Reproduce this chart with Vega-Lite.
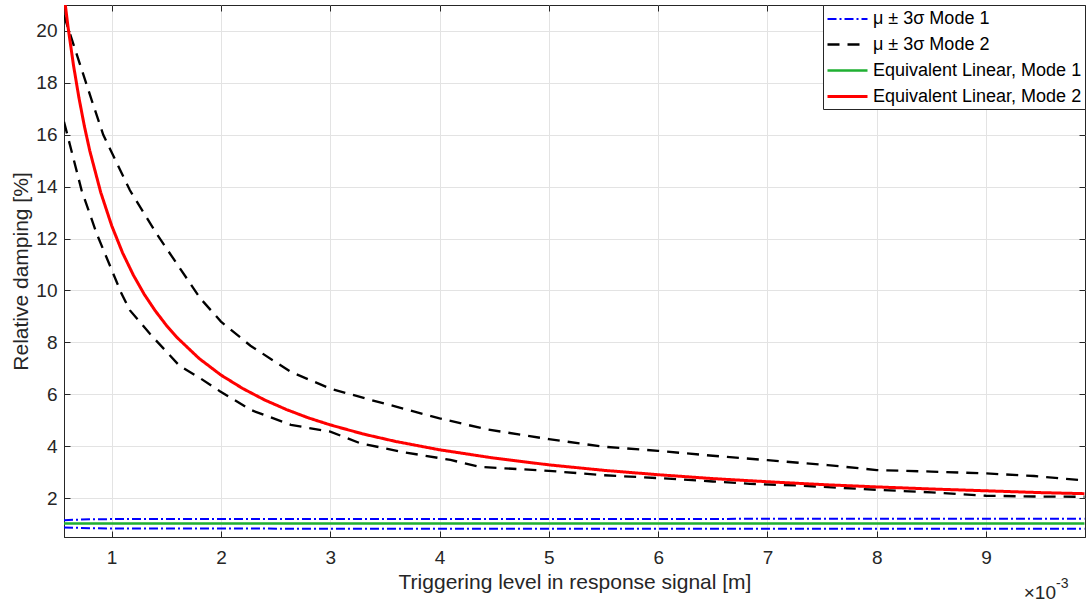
{
  "$schema": "https://vega.github.io/schema/vega-lite/v6.json",
  "width": 1021,
  "height": 532,
  "autosize": {"type": "none"},
  "padding": {"left": 64, "top": 5, "right": 4, "bottom": 65},
  "background": "white",
  "config": {
    "font": "Liberation Sans",
    "view": {"stroke": "#262626", "strokeWidth": 1},
    "axis": {
      "labelFont": "Liberation Sans",
      "titleFont": "Liberation Sans",
      "labelFontSize": 19,
      "titleFontSize": 21,
      "labelColor": "#262626",
      "titleColor": "#262626",
      "titleFontWeight": "normal",
      "domainColor": "#262626",
      "tickColor": "#262626",
      "gridColor": "#e3e3e3",
      "gridWidth": 1
    }
  },
  "resolve": {"axis": {"x": "independent", "y": "independent"}},
  "layer": [
    {
      "data": {"values": [
        {"x": 0.564, "v": 1.15, "series": "μ ± 3σ Mode 1", "bound": "upper"},
        {"x": 0.8, "v": 1.18, "series": "μ ± 3σ Mode 1", "bound": "upper"},
        {"x": 1.0, "v": 1.19, "series": "μ ± 3σ Mode 1", "bound": "upper"},
        {"x": 3.0, "v": 1.19, "series": "μ ± 3σ Mode 1", "bound": "upper"},
        {"x": 5.0, "v": 1.19, "series": "μ ± 3σ Mode 1", "bound": "upper"},
        {"x": 7.0, "v": 1.2, "series": "μ ± 3σ Mode 1", "bound": "upper"},
        {"x": 9.9, "v": 1.2, "series": "μ ± 3σ Mode 1", "bound": "upper"},
        {"x": 0.564, "v": 0.87, "series": "μ ± 3σ Mode 1", "bound": "lower"},
        {"x": 0.8, "v": 0.84, "series": "μ ± 3σ Mode 1", "bound": "lower"},
        {"x": 1.0, "v": 0.83, "series": "μ ± 3σ Mode 1", "bound": "lower"},
        {"x": 3.0, "v": 0.82, "series": "μ ± 3σ Mode 1", "bound": "lower"},
        {"x": 5.0, "v": 0.82, "series": "μ ± 3σ Mode 1", "bound": "lower"},
        {"x": 7.0, "v": 0.82, "series": "μ ± 3σ Mode 1", "bound": "lower"},
        {"x": 9.9, "v": 0.82, "series": "μ ± 3σ Mode 1", "bound": "lower"},

        {"x": 0.564, "v": 20.6, "series": "μ ± 3σ Mode 2", "bound": "upper"},
        {"x": 0.82, "v": 17.3, "series": "μ ± 3σ Mode 2", "bound": "upper"},
        {"x": 0.923, "v": 16.0, "series": "μ ± 3σ Mode 2", "bound": "upper"},
        {"x": 1.167, "v": 13.86, "series": "μ ± 3σ Mode 2", "bound": "upper"},
        {"x": 1.41, "v": 12.19, "series": "μ ± 3σ Mode 2", "bound": "upper"},
        {"x": 1.81, "v": 9.7, "series": "μ ± 3σ Mode 2", "bound": "upper"},
        {"x": 2.0, "v": 8.8, "series": "μ ± 3σ Mode 2", "bound": "upper"},
        {"x": 2.27, "v": 7.87, "series": "μ ± 3σ Mode 2", "bound": "upper"},
        {"x": 2.64, "v": 6.86, "series": "μ ± 3σ Mode 2", "bound": "upper"},
        {"x": 3.0, "v": 6.22, "series": "μ ± 3σ Mode 2", "bound": "upper"},
        {"x": 3.33, "v": 5.83, "series": "μ ± 3σ Mode 2", "bound": "upper"},
        {"x": 4.0, "v": 5.07, "series": "μ ± 3σ Mode 2", "bound": "upper"},
        {"x": 4.43, "v": 4.65, "series": "μ ± 3σ Mode 2", "bound": "upper"},
        {"x": 5.0, "v": 4.27, "series": "μ ± 3σ Mode 2", "bound": "upper"},
        {"x": 5.5, "v": 3.98, "series": "μ ± 3σ Mode 2", "bound": "upper"},
        {"x": 6.0, "v": 3.82, "series": "μ ± 3σ Mode 2", "bound": "upper"},
        {"x": 6.5, "v": 3.63, "series": "μ ± 3σ Mode 2", "bound": "upper"},
        {"x": 7.0, "v": 3.46, "series": "μ ± 3σ Mode 2", "bound": "upper"},
        {"x": 7.55, "v": 3.27, "series": "μ ± 3σ Mode 2", "bound": "upper"},
        {"x": 8.0, "v": 3.08, "series": "μ ± 3σ Mode 2", "bound": "upper"},
        {"x": 8.5, "v": 3.02, "series": "μ ± 3σ Mode 2", "bound": "upper"},
        {"x": 9.0, "v": 2.95, "series": "μ ± 3σ Mode 2", "bound": "upper"},
        {"x": 9.44, "v": 2.85, "series": "μ ± 3σ Mode 2", "bound": "upper"},
        {"x": 9.9, "v": 2.68, "series": "μ ± 3σ Mode 2", "bound": "upper"},

        {"x": 0.564, "v": 16.5, "series": "μ ± 3σ Mode 2", "bound": "lower"},
        {"x": 0.725, "v": 13.86, "series": "μ ± 3σ Mode 2", "bound": "lower"},
        {"x": 0.863, "v": 12.19, "series": "μ ± 3σ Mode 2", "bound": "lower"},
        {"x": 1.09, "v": 9.88, "series": "μ ± 3σ Mode 2", "bound": "lower"},
        {"x": 1.168, "v": 9.23, "series": "μ ± 3σ Mode 2", "bound": "lower"},
        {"x": 1.35, "v": 8.33, "series": "μ ± 3σ Mode 2", "bound": "lower"},
        {"x": 1.62, "v": 7.1, "series": "μ ± 3σ Mode 2", "bound": "lower"},
        {"x": 1.81, "v": 6.62, "series": "μ ± 3σ Mode 2", "bound": "lower"},
        {"x": 1.99, "v": 6.12, "series": "μ ± 3σ Mode 2", "bound": "lower"},
        {"x": 2.27, "v": 5.4, "series": "μ ± 3σ Mode 2", "bound": "lower"},
        {"x": 2.64, "v": 4.82, "series": "μ ± 3σ Mode 2", "bound": "lower"},
        {"x": 3.0, "v": 4.56, "series": "μ ± 3σ Mode 2", "bound": "lower"},
        {"x": 3.27, "v": 4.12, "series": "μ ± 3σ Mode 2", "bound": "lower"},
        {"x": 3.64, "v": 3.79, "series": "μ ± 3σ Mode 2", "bound": "lower"},
        {"x": 4.1, "v": 3.47, "series": "μ ± 3σ Mode 2", "bound": "lower"},
        {"x": 4.37, "v": 3.2, "series": "μ ± 3σ Mode 2", "bound": "lower"},
        {"x": 5.0, "v": 3.05, "series": "μ ± 3σ Mode 2", "bound": "lower"},
        {"x": 5.5, "v": 2.88, "series": "μ ± 3σ Mode 2", "bound": "lower"},
        {"x": 6.0, "v": 2.77, "series": "μ ± 3σ Mode 2", "bound": "lower"},
        {"x": 6.5, "v": 2.64, "series": "μ ± 3σ Mode 2", "bound": "lower"},
        {"x": 6.84, "v": 2.55, "series": "μ ± 3σ Mode 2", "bound": "lower"},
        {"x": 7.3, "v": 2.48, "series": "μ ± 3σ Mode 2", "bound": "lower"},
        {"x": 8.0, "v": 2.32, "series": "μ ± 3σ Mode 2", "bound": "lower"},
        {"x": 8.5, "v": 2.22, "series": "μ ± 3σ Mode 2", "bound": "lower"},
        {"x": 9.0, "v": 2.09, "series": "μ ± 3σ Mode 2", "bound": "lower"},
        {"x": 9.44, "v": 2.06, "series": "μ ± 3σ Mode 2", "bound": "lower"},
        {"x": 9.9, "v": 2.05, "series": "μ ± 3σ Mode 2", "bound": "lower"},

        {"x": 0.564, "v": 1.02, "series": "Equivalent Linear, Mode 1", "bound": "mean"},
        {"x": 3.0, "v": 1.02, "series": "Equivalent Linear, Mode 1", "bound": "mean"},
        {"x": 6.0, "v": 1.02, "series": "Equivalent Linear, Mode 1", "bound": "mean"},
        {"x": 9.9, "v": 1.02, "series": "Equivalent Linear, Mode 1", "bound": "mean"},

        {"x": 0.564, "v": 21.41, "series": "Equivalent Linear, Mode 2", "bound": "mean"},
        {"x": 0.6, "v": 20.18, "series": "Equivalent Linear, Mode 2", "bound": "mean"},
        {"x": 0.65, "v": 18.7, "series": "Equivalent Linear, Mode 2", "bound": "mean"},
        {"x": 0.7, "v": 17.44, "series": "Equivalent Linear, Mode 2", "bound": "mean"},
        {"x": 0.75, "v": 16.34, "series": "Equivalent Linear, Mode 2", "bound": "mean"},
        {"x": 0.8, "v": 15.38, "series": "Equivalent Linear, Mode 2", "bound": "mean"},
        {"x": 0.9, "v": 13.78, "series": "Equivalent Linear, Mode 2", "bound": "mean"},
        {"x": 1.0, "v": 12.5, "series": "Equivalent Linear, Mode 2", "bound": "mean"},
        {"x": 1.1, "v": 11.45, "series": "Equivalent Linear, Mode 2", "bound": "mean"},
        {"x": 1.2, "v": 10.58, "series": "Equivalent Linear, Mode 2", "bound": "mean"},
        {"x": 1.3, "v": 9.84, "series": "Equivalent Linear, Mode 2", "bound": "mean"},
        {"x": 1.4, "v": 9.21, "series": "Equivalent Linear, Mode 2", "bound": "mean"},
        {"x": 1.5, "v": 8.66, "series": "Equivalent Linear, Mode 2", "bound": "mean"},
        {"x": 1.6, "v": 8.18, "series": "Equivalent Linear, Mode 2", "bound": "mean"},
        {"x": 1.8, "v": 7.38, "series": "Equivalent Linear, Mode 2", "bound": "mean"},
        {"x": 2.0, "v": 6.74, "series": "Equivalent Linear, Mode 2", "bound": "mean"},
        {"x": 2.2, "v": 6.22, "series": "Equivalent Linear, Mode 2", "bound": "mean"},
        {"x": 2.4, "v": 5.78, "series": "Equivalent Linear, Mode 2", "bound": "mean"},
        {"x": 2.6, "v": 5.41, "series": "Equivalent Linear, Mode 2", "bound": "mean"},
        {"x": 2.8, "v": 5.09, "series": "Equivalent Linear, Mode 2", "bound": "mean"},
        {"x": 3.0, "v": 4.82, "series": "Equivalent Linear, Mode 2", "bound": "mean"},
        {"x": 3.3, "v": 4.47, "series": "Equivalent Linear, Mode 2", "bound": "mean"},
        {"x": 3.6, "v": 4.18, "series": "Equivalent Linear, Mode 2", "bound": "mean"},
        {"x": 4.0, "v": 3.86, "series": "Equivalent Linear, Mode 2", "bound": "mean"},
        {"x": 4.5, "v": 3.54, "series": "Equivalent Linear, Mode 2", "bound": "mean"},
        {"x": 5.0, "v": 3.28, "series": "Equivalent Linear, Mode 2", "bound": "mean"},
        {"x": 5.5, "v": 3.07, "series": "Equivalent Linear, Mode 2", "bound": "mean"},
        {"x": 6.0, "v": 2.9, "series": "Equivalent Linear, Mode 2", "bound": "mean"},
        {"x": 6.5, "v": 2.75, "series": "Equivalent Linear, Mode 2", "bound": "mean"},
        {"x": 7.0, "v": 2.63, "series": "Equivalent Linear, Mode 2", "bound": "mean"},
        {"x": 7.5, "v": 2.52, "series": "Equivalent Linear, Mode 2", "bound": "mean"},
        {"x": 8.0, "v": 2.43, "series": "Equivalent Linear, Mode 2", "bound": "mean"},
        {"x": 8.5, "v": 2.35, "series": "Equivalent Linear, Mode 2", "bound": "mean"},
        {"x": 9.0, "v": 2.28, "series": "Equivalent Linear, Mode 2", "bound": "mean"},
        {"x": 9.5, "v": 2.21, "series": "Equivalent Linear, Mode 2", "bound": "mean"},
        {"x": 9.9, "v": 2.17, "series": "Equivalent Linear, Mode 2", "bound": "mean"}
      ]},
      "mark": {"type": "line", "clip": true},
      "encoding": {
        "x": {
          "field": "x", "type": "quantitative",
          "scale": {"domain": [0.564, 9.905], "nice": false, "zero": false},
          "axis": {
            "title": "Triggering level in response signal [m]",
            "values": [1, 2, 3, 4, 5, 6, 7, 8, 9],
            "format": "d",
            "tickSize": -6,
            "labelPadding": 17,
            "titlePadding": 4,
            "grid": true
          }
        },
        "y": {
          "field": "v", "type": "quantitative",
          "scale": {"domain": [0.5, 21], "nice": false, "zero": false},
          "axis": {
            "title": "Relative damping [%]",
            "values": [2, 4, 6, 8, 10, 12, 14, 16, 18, 20],
            "tickSize": -6,
            "labelPadding": 13,
            "titlePadding": 4,
            "grid": true
          }
        },
        "detail": {"field": "bound"},
        "color": {
          "field": "series", "type": "nominal",
          "scale": {
            "domain": ["μ ± 3σ Mode 1", "μ ± 3σ Mode 2", "Equivalent Linear, Mode 1", "Equivalent Linear, Mode 2"],
            "range": ["#0000ff", "#000000", "#1fb032", "#ff0000"]
          },
          "legend": {
            "title": null,
            "orient": "top-right",
            "offset": 0,
            "fillColor": "white",
            "strokeColor": "#262626",
            "padding": 3,
            "symbolType": "M-1,0H3",
            "symbolSize": 400,
            "labelFont": "Liberation Sans",
            "labelFontSize": 18,
            "labelColor": "#000000",
            "labelOffset": 24,
            "rowPadding": 5,
            "labelLimit": 400
          }
        },
        "strokeDash": {
          "field": "series", "type": "nominal",
          "scale": {
            "domain": ["μ ± 3σ Mode 1", "μ ± 3σ Mode 2", "Equivalent Linear, Mode 1", "Equivalent Linear, Mode 2"],
            "range": [[9, 3, 2, 3], [12, 8], [1, 0], [1, 0]]
          },
          "legend": {"title": null}
        },
        "strokeWidth": {
          "field": "series", "type": "nominal",
          "scale": {
            "domain": ["μ ± 3σ Mode 1", "μ ± 3σ Mode 2", "Equivalent Linear, Mode 1", "Equivalent Linear, Mode 2"],
            "range": [2, 3, 2.2, 3]
          },
          "legend": {"title": null}
        }
      }
    },
    {
      "data": {"values": [{"x": 9.905, "v": 0.5, "label": "×10"}]},
      "mark": {"type": "text", "align": "right", "baseline": "middle", "dx": -29, "dy": 56, "fontSize": 19, "font": "Liberation Sans", "color": "#262626", "clip": false},
      "encoding": {
        "x": {
          "field": "x", "type": "quantitative",
          "axis": {"orient": "top", "values": [1, 2, 3, 4, 5, 6, 7, 8, 9], "labels": false, "title": null, "grid": false, "domain": false, "tickSize": -6}
        },
        "y": {
          "field": "v", "type": "quantitative",
          "axis": {"orient": "right", "values": [2, 4, 6, 8, 10, 12, 14, 16, 18, 20], "labels": false, "title": null, "grid": false, "domain": false, "tickSize": -6}
        },
        "text": {"field": "label"}
      }
    },
    {
      "data": {"values": [{"x": 9.905, "v": 0.5, "label": "-3"}]},
      "mark": {"type": "text", "align": "left", "baseline": "middle", "dx": -29, "dy": 47, "fontSize": 14, "font": "Liberation Sans", "color": "#262626", "clip": false},
      "encoding": {
        "x": {"field": "x", "type": "quantitative", "axis": null},
        "y": {"field": "v", "type": "quantitative", "axis": null},
        "text": {"field": "label"}
      }
    }
  ]
}
